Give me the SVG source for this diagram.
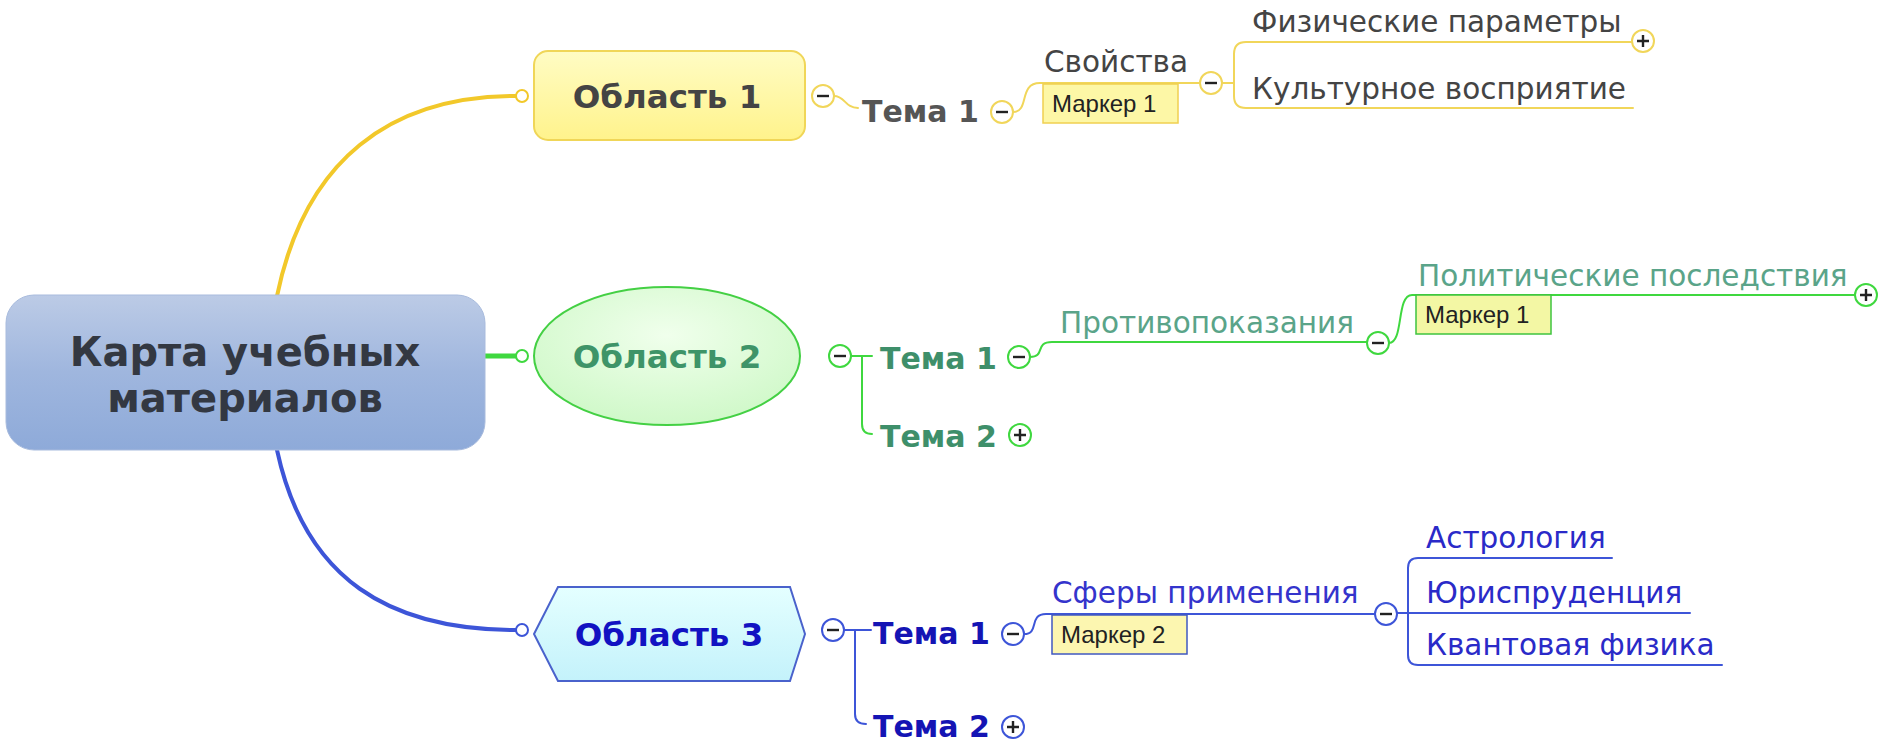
<svg xmlns="http://www.w3.org/2000/svg" width="1890" height="742" viewBox="0 0 1890 742">
<defs>
<linearGradient id="gCentral" x1="0" y1="0" x2="0" y2="1">
<stop offset="0" stop-color="#bccbe6"/><stop offset="0.5" stop-color="#9fb6de"/><stop offset="1" stop-color="#8eaad9"/>
</linearGradient>
<linearGradient id="gYellow" x1="0" y1="0" x2="0" y2="1">
<stop offset="0" stop-color="#fffcc4"/><stop offset="1" stop-color="#fff38c"/>
</linearGradient>
<radialGradient id="gGreen" cx="0.5" cy="0.35" r="0.7">
<stop offset="0" stop-color="#f0ffec"/><stop offset="1" stop-color="#cdf8c6"/>
</radialGradient>
<linearGradient id="gCyan" x1="0" y1="0" x2="0" y2="1">
<stop offset="0" stop-color="#e4ffff"/><stop offset="1" stop-color="#c4f2fb"/>
</linearGradient>
</defs>
<style>
text{font-family:"DejaVu Sans","Liberation Sans",sans-serif}
.c{text-anchor:middle}
.main{font-size:40px;font-weight:bold;fill:#333842}
.area{font-size:32.5px;font-weight:bold}
.topic{font-size:30px;font-weight:bold}
.sub{font-size:29.5px}
.mark{font-family:"Liberation Sans",Arial,sans-serif;font-size:24px;fill:#222}
.ln{fill:none;stroke-linecap:round;stroke-linejoin:round}
.y{stroke:#f2c82a}
.yl{stroke:#f1d65a}
.g{stroke:#3fd83f}
.b{stroke:#3d55d8}
.btn{fill:#fff;stroke-width:2}
.sign{stroke:#222;stroke-width:2.4;fill:none}
</style>
<g id="connectors">
<path class="ln y" stroke-width="4" d="M 277 296 C 305 160 390 96 516 96"/>
<path class="ln g" stroke-width="5" d="M 485 356 L 516 356"/>
<path class="ln b" stroke-width="4" d="M 277 450 C 305 580 390 630 516 630"/>
<circle cx="522" cy="96" r="6" class="btn y"/>
<circle cx="522" cy="356" r="6" class="btn g"/>
<circle cx="522" cy="630" r="6" class="btn b"/>
<path class="ln yl" stroke-width="2" d="M 834 96 C 845 96 845 108 858 108"/>
<path class="ln yl" stroke-width="2" d="M 1013 112 C 1030 112 1018 83 1040 83 H 1200"/>
<path class="ln yl" stroke-width="2" d="M 1222 83 H 1234 M 1632 42 H 1246 Q 1234 42 1234 54 V 96 Q 1234 108 1246 108 H 1633"/>
<path class="ln g" stroke-width="2" d="M 851 356 H 872 M 862 356 V 424 Q 862 434 872 434"/>
<path class="ln g" stroke-width="2" d="M 1030 357 C 1046 357 1034 342 1052 342 H 1367"/>
<path class="ln g" stroke-width="2" d="M 1389 343 C 1404 343 1396 295 1412 295 H 1855"/>
<path class="ln b" stroke-width="2" d="M 844 630 H 871 M 855 630 V 714 Q 855 724 866 724"/>
<path class="ln b" stroke-width="2" d="M 1024 634 C 1040 634 1028 614 1046 614 H 1375"/>
<path class="ln b" stroke-width="2" d="M 1397 613 H 1690 M 1612 558 H 1418 Q 1408 558 1408 568 V 655 Q 1408 665 1418 665 H 1722"/>
</g>
<g id="central">
<rect x="6" y="295" width="479" height="155" rx="28" fill="url(#gCentral)" stroke="#a8bbdd" stroke-width="1"/>
<text class="main c" x="245" y="366">Карта учебных</text>
<text class="main c" x="245" y="412">материалов</text>
</g>
<g id="area1">
<rect x="534" y="51" width="271" height="89" rx="14" fill="url(#gYellow)" stroke="#f0d658" stroke-width="2"/>
<text class="area c" x="667" y="108" fill="#444">Область 1</text>
</g>
<g id="area2">
<ellipse cx="667" cy="356" rx="133" ry="69" fill="url(#gGreen)" stroke="#44d044" stroke-width="2"/>
<text class="area c" x="667" y="368" fill="#3e9468">Область 2</text>
</g>
<g id="area3">
<polygon points="534,634 558,587 790,587 805,634 790,681 558,681" fill="url(#gCyan)" stroke="#4a62cc" stroke-width="2"/>
<text class="area c" x="669" y="646" fill="#1212c2">Область 3</text>
</g>
<g id="a1-toggle"><circle cx="823" cy="96" r="11" class="btn yl"/><path class="sign" d="M 817 96 H 829"/></g>
<g id="a1-t1">
<text class="topic" x="862" y="122" fill="#555">Тема 1</text>
<circle cx="1002" cy="112" r="11" class="btn yl"/><path class="sign" d="M 996 112 H 1008"/>
</g>
<g id="a1-props">
<text class="sub" x="1044" y="72" fill="#444">Свойства</text>
<rect x="1043" y="84" width="135" height="39" fill="#fdf7a6" stroke="#f0d050" stroke-width="1.5"/>
<text class="mark" x="1052" y="112">Маркер 1</text>
<circle cx="1211" cy="83" r="11" class="btn yl"/><path class="sign" d="M 1205 83 H 1217"/>
</g>
<g id="a1-phys">
<text class="sub" x="1252" y="32" fill="#444">Физические параметры</text>
<circle cx="1643" cy="41" r="11" class="btn yl"/><path class="sign" d="M 1637 41 H 1649 M 1643 35 V 47"/>
</g>
<g id="a1-cult">
<text class="sub" x="1252" y="99" fill="#444">Культурное восприятие</text>
</g>
<g id="a2-toggle"><circle cx="840" cy="356" r="11" class="btn g"/><path class="sign" d="M 834 356 H 846"/></g>
<g id="a2-t1">
<text class="topic" x="880" y="369" fill="#3e8f6a">Тема 1</text>
<circle cx="1019" cy="357" r="11" class="btn g"/><path class="sign" d="M 1013 357 H 1025"/>
</g>
<g id="a2-t2">
<text class="topic" x="880" y="447" fill="#3e8f6a">Тема 2</text>
<circle cx="1020" cy="435" r="11" class="btn g"/><path class="sign" d="M 1014 435 H 1026 M 1020 429 V 441"/>
</g>
<g id="a2-contra">
<text class="sub" x="1060" y="333" fill="#5aa489">Противопоказания</text>
<circle cx="1378" cy="343" r="11" class="btn g"/><path class="sign" d="M 1372 343 H 1384"/>
</g>
<g id="a2-pol">
<text class="sub" x="1418" y="286" fill="#5aa489">Политические последствия</text>
<rect x="1416" y="295" width="135" height="39" fill="#f3f7a4" stroke="#3fc43f" stroke-width="1.5"/>
<text class="mark" x="1425" y="323">Маркер 1</text>
<circle cx="1866" cy="295" r="11" class="btn g"/><path class="sign" d="M 1860 295 H 1872 M 1866 289 V 301"/>
</g>
<g id="a3-toggle"><circle cx="833" cy="630" r="11" class="btn b"/><path class="sign" d="M 827 630 H 839"/></g>
<g id="a3-t1">
<text class="topic" x="873" y="644" fill="#1414b4">Тема 1</text>
<circle cx="1013" cy="634" r="11" class="btn b"/><path class="sign" d="M 1007 634 H 1019"/>
</g>
<g id="a3-t2">
<text class="topic" x="873" y="737" fill="#1414b4">Тема 2</text>
<circle cx="1013" cy="727" r="11" class="btn b"/><path class="sign" d="M 1007 727 H 1019 M 1013 721 V 733"/>
</g>
<g id="a3-spheres">
<text class="sub" x="1052" y="603" fill="#3434cc">Сферы применения</text>
<rect x="1052" y="615" width="135" height="39" fill="#fcf6b0" stroke="#4058c0" stroke-width="1.5"/>
<text class="mark" x="1061" y="643">Маркер 2</text>
<circle cx="1386" cy="614" r="11" class="btn b"/><path class="sign" d="M 1380 614 H 1392"/>
</g>
<g id="a3-astro"><text class="sub" x="1426" y="548" fill="#2a2ac8">Астрология</text></g>
<g id="a3-law"><text class="sub" x="1426" y="603" fill="#2a2ac8">Юриспруденция</text></g>
<g id="a3-quant"><text class="sub" x="1426" y="655" fill="#2a2ac8">Квантовая физика</text></g>
</svg>
